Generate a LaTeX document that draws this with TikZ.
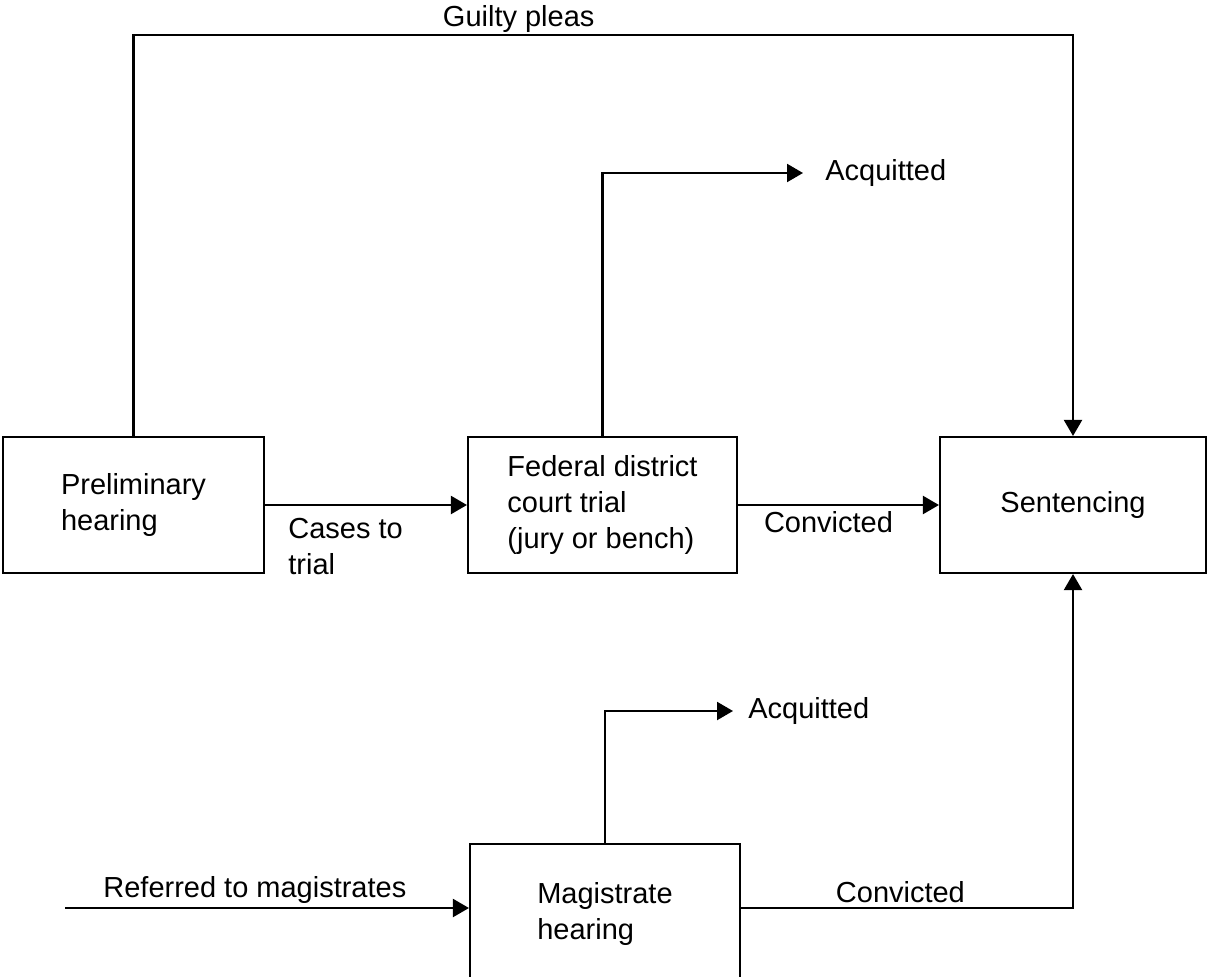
\documentclass[tikz,border=0pt]{standalone}
\usepackage{fontspec}
\setmainfont{Liberation Sans}
\usetikzlibrary{arrows.meta,positioning}

\begin{document}
\begin{tikzpicture}[x=0.02cm,y=-0.02cm,
	every node/.style={font=\fontsize{16.5}{20.5}\selectfont},
	stage/.style={rectangle,draw,line width=1.2pt,align=left,minimum height=136*0.02cm},
	outcome/.style={anchor=west,inner sep=0pt},
	lbl/.style={inner sep=2pt},
	arr/.style={line width=1.2pt,-{Triangle[length=0.32cm,width=0.36cm]}}
]
\useasboundingbox (0,0) rectangle (1209,976);
\clip (0,0) rectangle (1209,976);
\node (pre) [stage,minimum width=261*0.02cm] at (133.5,505) {Preliminary\\hearing};
\node (fed) [stage,minimum width=269*0.02cm] at (602.5,505) {Federal district\\court trial\\(jury or bench)};
\node (sen) [stage,minimum width=266*0.02cm] at (1073,505) {Sentencing};
\node (mag) [stage,anchor=north,minimum width=270*0.02cm,minimum height=140*0.02cm] at (605,843) {Magistrate\\hearing};
\node (acq1) [outcome] at (825,173) {Acquitted};
\node (acq2) [outcome] at (748,711) {Acquitted};
\coordinate (ref) at (65,908);

% guilty pleas go straight to sentencing
\draw[arr] (pre.north) -- ++(0,-401) -| node[pos=0.205,above,inner sep=0.5pt] {Guilty pleas} (sen.north);
\draw[arr,shorten >=0.44cm] (fed.north) |- (acq1.west);
\draw[arr] (pre.east) -- (fed.west);
\node [anchor=north west,inner sep=0pt,align=left] at (288,518) {Cases to\\trial};
\draw[arr] (fed.east) -- node[pos=0.45,below,inner sep=3pt] {Convicted} (sen.west);
% magistrate route
\draw[arr,shorten >=0.3cm] (mag.north) |- (acq2.west);
\draw[arr] (ref) -- node[pos=0.47,above,lbl] {Referred to magistrates} (ref -| mag.west);
\draw[arr] (ref -| mag.east) -| node[pos=0.24,above,inner sep=2.5pt] {Convicted} (sen.south);
\end{tikzpicture}
\end{document}
